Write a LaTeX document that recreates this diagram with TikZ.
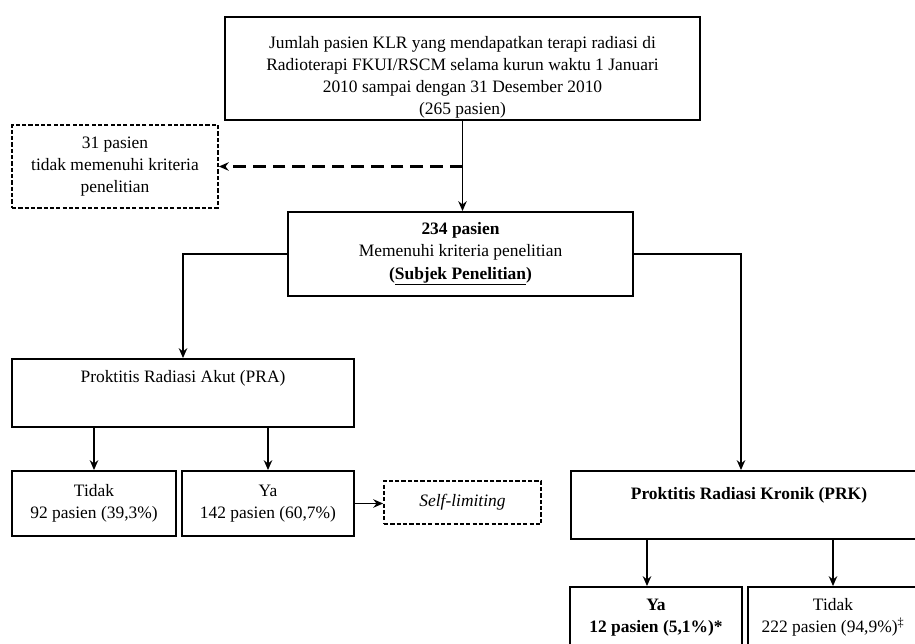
\documentclass[tikz,border=0pt]{standalone}
\usepackage{fontspec}
\setmainfont{Liberation Serif}
\usetikzlibrary{positioning, arrows.meta}

\tikzset{
    box/.style={draw, line width=1.3pt, align=center, inner sep=0pt},
    dashbox/.style={draw, line width=1.2pt, dash pattern=on 3pt off 1.5pt, align=center, inner sep=0pt},
    arr/.style={-{Stealth[length=7pt, width=6pt]}, line width=1.3pt},
}

\begin{document}
\begin{tikzpicture}[x=0.025cm, y=-0.025cm, font=\fontsize{12.4}{15.8}\selectfont]
    \useasboundingbox (0,0) rectangle (915,644);
    \clip (0,0) rectangle (915,644);

    \node[box, minimum width=11.875cm, minimum height=2.575cm] (total) at (462.5, 68.5) {\rule{0pt}{21pt}Jumlah pasien KLR yang mendapatkan terapi radiasi di\\Radioterapi FKUI/RSCM selama kurun waktu 1 Januari\\2010 sampai dengan 31 Desember 2010\\(265 pasien)};
    \node[dashbox, minimum width=5.15cm, minimum height=2.075cm] (excl) at (115, 166.5) {31 pasien\\tidak memenuhi kriteria\\penelitian};
    \node[box, minimum width=8.625cm, minimum height=2.1cm] (subjek) at (460.5, 254) {\textbf{234 pasien}\\Memenuhi kriteria penelitian\\\textbf{(\underline{Subjek Penelitian})}};

    \node[box, minimum width=8.55cm, minimum height=1.7cm, text height=9pt, text depth=23.4pt] (pra) at (183, 393) {Proktitis Radiasi Akut (PRA)};
    \node[box, minimum width=4.1cm, minimum height=1.625cm] (praNo) at (94, 503.5) {Tidak\\92 pasien (39,3\%)};
    \node[box, minimum width=4.3cm, minimum height=1.625cm] (praYes) at (268, 503.5) {Ya\\142 pasien (60,7\%)};
    \node[dashbox, minimum width=3.925cm, minimum height=1.075cm] (selflim) at (462.5, 502.5) {\textit{Self-limiting}};

    \node[box, minimum width=8.9cm, minimum height=1.7cm, text height=9pt, text depth=16.2pt] (prk) at (749, 505) {\textbf{Proktitis Radiasi Kronik (PRK)}};
    \node[box, minimum width=4.3cm, minimum height=1.525cm] (prkYes) at (656, 617.5) {\textbf{Ya}\\\textbf{12 pasien (5,1\%)*}};
    \node[box, minimum width=4.25cm, minimum height=1.525cm] (prkNo) at (833, 617.5) {Tidak\\222 pasien (94,9\%)\textsuperscript{‡}};

    \draw[arr] (total.south) -- (total.south |- subjek.north);
    \draw[arr, line width=1.6pt, dash pattern=on 9pt off 5pt] (total.south |- excl.east) -- (excl.east);
    \draw[arr] (subjek.west) -| (pra.north);
    \draw[arr] (subjek.east) -| ([xshift=-0.2cm]prk.north);
    \draw[arr] (pra.south -| praNo.north) -- (praNo.north);
    \draw[arr] (pra.south -| praYes.north) -- (praYes.north);
    \draw[arr] (praYes.east) -- (praYes.east -| selflim.west);
    \draw[arr] ([xshift=-0.225cm]prkYes.north |- prk.south) -- ([xshift=-0.225cm]prkYes.north);
    \draw[arr] (prk.south -| prkNo.north) -- (prkNo.north);
\end{tikzpicture}
\end{document}
